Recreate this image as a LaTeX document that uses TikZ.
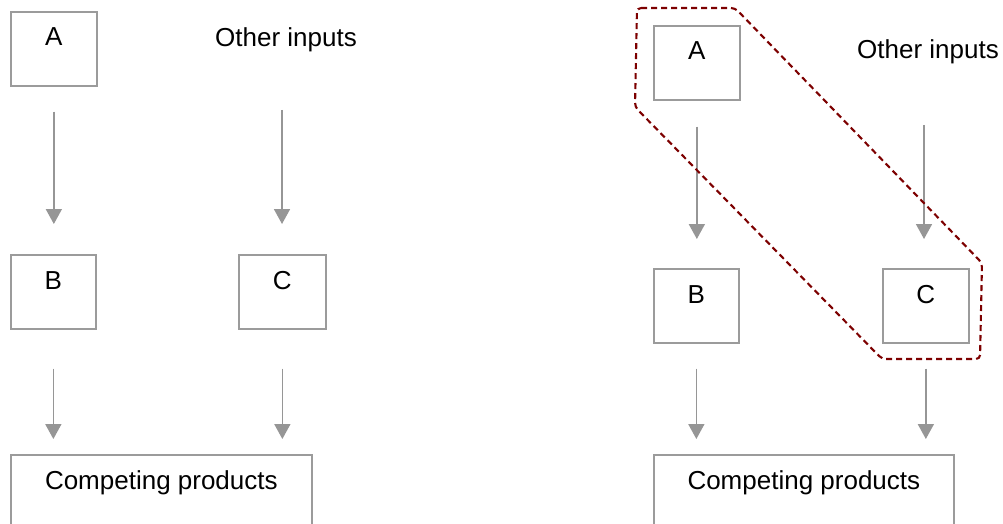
\documentclass[tikz,border=0pt]{standalone}
\usepackage{fontspec}
\setmainfont{Liberation Sans}
\usetikzlibrary{arrows.meta}
\definecolor{boxgray}{RGB}{155,155,155}
\definecolor{arrgray}{RGB}{150,150,150}
\definecolor{hilite}{RGB}{125,0,0}
\newcommand{\lbl}{\fontsize{26pt}{31pt}\selectfont}
\tikzset{
  box/.style={draw=boxgray, line width=1.7pt, rectangle, inner sep=0pt, anchor=north west, minimum height=74pt},
  boxtext/.style={label={[anchor=base, yshift=-35pt, inner sep=0pt, font=\lbl]north:#1}},
  plain/.style={anchor=base west, inner sep=0pt, font=\lbl},
  arr/.style={draw=arrgray, line width=1.7pt, -{Triangle[width=16pt,length=15pt]}},
  group/.style={draw=hilite, line width=2.1pt, dash pattern=on 6pt off 4pt, rounded corners=4pt},
}
\begin{document}
\begin{tikzpicture}[x=1pt, y=-1pt]
\clip (0,0) rectangle (1003,524);
\fill[white] (0,0) rectangle (1003,524);

% ---------- left panel ----------
\node[box, minimum width=86pt, boxtext=A] (A) at (10,11) {};
\node[plain] (OI) at (215,46.5) {Other inputs};
\coordinate (oi) at (282,110);
\node[box, minimum width=85pt, boxtext=B] (B) at (10,254) {};
\node[box, minimum width=87pt, boxtext=C] (C) at (238,254) {};
\node[box, minimum width=301pt, minimum height=120pt, boxtext=Competing products] (P) at (10,454) {};

\draw[arr, shorten <=25pt, shorten >=30pt] (A.south) -- (A.south |- B.north);
\draw[arr, shorten >=30pt] (oi) -- (oi |- C.north);
\draw[arr, shorten <=39pt, shorten >=15pt] (B.south) -- (B.south |- P.north);
\draw[arr, shorten <=39pt, shorten >=15pt] (C.south) -- (C.south |- P.north);

% ---------- right panel ----------
\node[box, minimum width=86pt, boxtext=A] (A2) at (653,25) {};
\node[plain] (OI2) at (857,59) {Other inputs};
\coordinate (oi2) at (924,125);
\node[box, minimum width=85pt, boxtext=B] (B2) at (653,268) {};
\node[box, minimum width=86pt, boxtext=C] (C2) at (882,268) {};
\node[box, minimum width=300pt, minimum height=120pt, boxtext=Competing products] (P2) at (653,454) {};

\draw[arr, shorten <=26pt, shorten >=29pt] (A2.south) -- (A2.south |- B2.north);
\draw[arr, shorten >=29pt] (oi2) -- (oi2 |- C2.north);
\draw[arr, shorten <=25pt, shorten >=15pt] (B2.south) -- (B2.south |- P2.north);
\draw[arr, shorten <=25pt, shorten >=15pt] (C2.south) -- (C2.south |- P2.north);

% dashed grouping outline
\draw[group] (637,8) -- (735,8) -- (982,263) -- (980,359) -- (882,359) -- (635,107) -- cycle;
\end{tikzpicture}
\end{document}
